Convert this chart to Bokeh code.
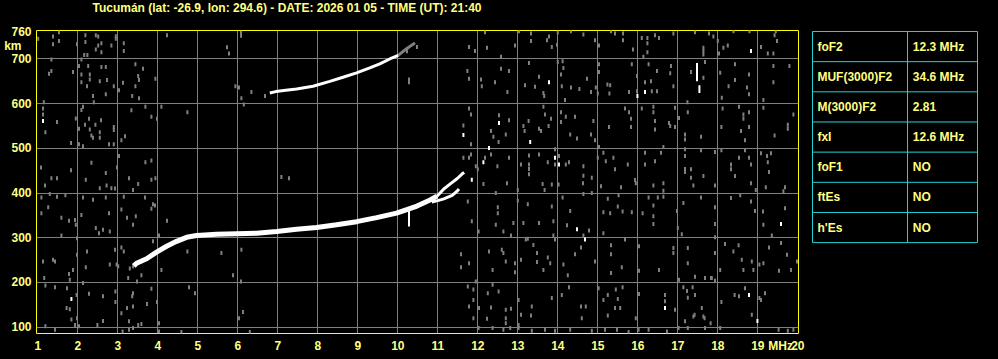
from bokeh.plotting import figure
from bokeh.models import Range1d, FixedTicker
from bokeh.layouts import row
from bokeh.embed import file_html
from bokeh.resources import INLINE
from bokeh.core.properties import value

TITLE = "Tucumán (lat: -26.9, lon: 294.6) - DATE: 2026 01 05 - TIME (UT): 21:40"
x_ticks = list(range(1, 21))
y_ticks = [100, 200, 300, 400, 500, 600, 700, 760]
x_unit_pos, x_unit_text = 19.57, "MHz"
y_unit_pos, y_unit_text = 730, "km\u00a0\u00a0\u00a0"

# main F2 trace (MHz, km)
main_mhz = [3.40, 3.47, 3.72, 3.97, 4.22, 4.47, 4.72, 4.97, 5.47, 5.97, 6.47, 6.97, 7.47,
            7.97, 8.47, 8.97, 9.47, 9.97, 10.48, 10.82, 10.98]
main_km = [237, 243, 253, 268, 281, 292, 301, 305, 308, 309, 310, 314, 319,
           323, 329, 336, 345, 355, 371, 385, 393]
# upper (O) cusp branch
upper_mhz = [10.98, 11.15, 11.32, 11.48, 11.61, 11.66]
upper_km = [393, 409, 421, 432, 443, 446]
# lower (X) branch
lower_mhz = [10.85, 11.00, 11.15, 11.36, 11.48, 11.53]
lower_km = [380, 383, 387, 395, 404, 409]
# second-hop echo
echo_mhz = [6.80, 6.95, 7.20, 7.47, 7.88, 8.30, 8.63, 8.97, 9.30, 9.55, 9.80, 10.01]
echo_km = [624, 627, 630, 633, 639, 650, 659, 669, 680, 689, 700, 708]
echo_tail_mhz = [10.01, 10.22, 10.43]
echo_tail_km = [708, 723, 736]
# vertical spikes
spike_mhz = [10.28, 17.48, 17.54]
spike_lo = [325, 650, 624]
spike_hi = [362, 691, 641]

# bright specks (MHz, km)
bright_pts = [(1.13, 561), (1.84, 163), (18.83, 718), (13.78, 648), (15.99, 617), (16.18, 626),
              (11.64, 530), (12.53, 557), (12.28, 501), (13.31, 514), (12.14, 469), (13.93, 479),
              (14.03, 464), (14.48, 319), (14.68, 296), (19.58, 331), (16.68, 143), (18.78, 172),
              (18.99, 114), (11.85, 430)]

# grey noise (MHz, km)
noise_pts = [
    (1.01, 745), (1.38, 750), (1.38, 733), (1.53, 760), (1.53, 740), (1.98, 733), (2.19, 753), (2.19, 738),
    (2.45, 753), (2.51, 750), (2.51, 730), (2.59, 735), (2.59, 715), (2.45, 721), (2.84, 730), (2.95, 751),
    (2.95, 745), (3.15, 735), (3.15, 718), (2.16, 709), (2.24, 709), (1.34, 699), (2.03, 684), (2.09, 699),
    (2.26, 684), (2.59, 682), (2.70, 682), (1.34, 673), (1.28, 667), (1.88, 671), (2.09, 665), (2.30, 665),
    (2.30, 654), (2.09, 648), (2.55, 650), (2.73, 653), (2.90, 639), (3.13, 647), (3.03, 630), (3.44, 688),
    (3.63, 678), (3.51, 662), (3.53, 653), (3.44, 639), (3.36, 617), (3.53, 612), (3.94, 656), (2.23, 639),
    (2.38, 617), (2.40, 603), (2.70, 621), (1.15, 603), (1.13, 589), (1.13, 576), (1.19, 536), (1.48, 559),
    (1.95, 567), (2.03, 544), (2.13, 593), (2.09, 586), (2.28, 566), (2.18, 553), (2.30, 542), (2.34, 529),
    (2.38, 524), (2.44, 553), (2.58, 563), (2.55, 524), (2.90, 548), (2.90, 541), (2.55, 536), (3.09, 518),
    (3.18, 527), (3.34, 585), (3.69, 593), (3.84, 571), (3.98, 566), (4.09, 593), (4.74, 581), (1.83, 512),
    (2.03, 509), (2.13, 505), (2.78, 509), (2.90, 509), (3.03, 483), (2.34, 468), (1.08, 457), (1.83, 451),
    (2.70, 445), (2.98, 457), (3.69, 469), (3.84, 473), (1.34, 433), (1.48, 433), (2.20, 430), (3.28, 433),
    (3.84, 430), (3.94, 433), (4.23, 753), (5.73, 726), (5.78, 712), (5.94, 639), (6.03, 636), (6.09, 612),
    (6.15, 598), (6.08, 759), (6.08, 752), (7.09, 436), (7.28, 433), (10.28, 654), (10.28, 648), (10.48, 727),
    (10.23, 717), (6.34, 626), (6.68, 617),
    (1.09, 390), (1.18, 417), (1.30, 398), (1.26, 368), (1.48, 392), (1.69, 395), (1.59, 345), (1.78, 338),
    (1.93, 340), (1.95, 329), (1.59, 305), (1.09, 355), (2.13, 390), (2.38, 385), (2.70, 390), (2.55, 411),
    (2.72, 417), (2.84, 411), (2.93, 410), (3.15, 392), (3.38, 407), (3.51, 420), (3.68, 390), (3.88, 375),
    (3.93, 372), (3.84, 365), (2.78, 355), (2.80, 314), (2.63, 318), (2.45, 322), (2.53, 310), (3.38, 329),
    (3.45, 348), (3.23, 345), (4.23, 338), (3.09, 363), (4.03, 305), (3.88, 292), (1.98, 299), (2.09, 351),
    (1.13, 247), (1.38, 251), (1.43, 247), (1.88, 228), (1.78, 219), (1.98, 262), (2.23, 269), (2.20, 234),
    (1.16, 210), (1.80, 206), (2.13, 199), (2.97, 240), (3.01, 236), (2.80, 240), (2.93, 273), (3.15, 269),
    (3.09, 278), (3.26, 210), (3.48, 202), (3.38, 236), (3.30, 231), (3.59, 216), (4.09, 228), (4.74, 269),
    (5.59, 266), (6.09, 273), (5.88, 216), (6.08, 202), (1.73, 187), (1.43, 189), (1.19, 193), (1.72, 143),
    (1.80, 140), (1.97, 172), (2.28, 175), (2.63, 169), (2.94, 180), (2.94, 156), (3.09, 131), (3.38, 176),
    (3.36, 169), (3.38, 146), (3.23, 143), (3.73, 152), (3.84, 186), (3.98, 156), (4.78, 189), (4.93, 176),
    (1.84, 117), (1.98, 120), (1.93, 105), (2.03, 102), (2.49, 105), (2.63, 114), (3.28, 113), (3.38, 98),
    (3.51, 105), (3.59, 107), (4.03, 109), (4.03, 90), (1.43, 94), (1.19, 102), (3.12, 90), (3.28, 94),
    (4.59, 89), (6.13, 134), (6.03, 120), (6.30, 89),
    (12.18, 760), (11.78, 727), (11.93, 718), (12.23, 725), (12.93, 730), (12.58, 705), (13.03, 762), (13.33, 757),
    (13.33, 740), (13.73, 742), (13.78, 750), (13.98, 732), (13.85, 727), (14.00, 759), (14.33, 762), (14.64, 755),
    (14.93, 742), (15.03, 730), (15.33, 762), (15.43, 757), (15.63, 757), (15.63, 742), (15.88, 721), (16.10, 747),
    (16.24, 747), (16.24, 735), (16.43, 753), (16.53, 747), (16.24, 715), (16.14, 705), (16.89, 757), (17.43, 760),
    (17.64, 725), (17.64, 718), (17.64, 710), (17.78, 757), (17.89, 750), (18.00, 740), (18.03, 712), (18.14, 725),
    (18.25, 730), (18.39, 762), (18.79, 762), (19.08, 727), (19.25, 712), (19.42, 753), (19.48, 740), (19.45, 762),
    (19.39, 712),
    (11.74, 673), (11.78, 656), (12.08, 654), (12.10, 639), (12.43, 648), (12.58, 678), (12.78, 673), (12.74, 626),
    (13.28, 691), (13.18, 641), (13.53, 660), (13.43, 638), (13.66, 617), (13.64, 624), (14.00, 693), (14.12, 695),
    (14.14, 680), (14.08, 665), (14.10, 639), (14.18, 608), (14.33, 636), (14.54, 633), (14.73, 656), (14.83, 626),
    (14.95, 636), (15.03, 688), (15.03, 671), (15.00, 623), (15.24, 643), (15.29, 623), (15.31, 641), (15.78, 626),
    (15.85, 688), (15.98, 662), (15.98, 628), (16.18, 648), (16.27, 688), (16.33, 650), (16.35, 628), (16.48, 673),
    (16.48, 628), (16.83, 684), (16.81, 668), (16.89, 639), (17.24, 603), (17.33, 671), (17.64, 658), (17.68, 693),
    (18.06, 669), (18.10, 613), (18.27, 639), (18.43, 653), (18.43, 688), (18.73, 636), (18.78, 665), (18.78, 621),
    (19.14, 608), (19.39, 684), (19.39, 648), (19.79, 684),
    (11.78, 589), (11.83, 576), (11.64, 551), (11.83, 509), (12.33, 539), (12.39, 526), (12.53, 574), (12.78, 563),
    (12.70, 531), (12.52, 514), (13.14, 550), (13.17, 539), (13.27, 561), (13.53, 544), (13.58, 539), (13.64, 593),
    (13.68, 576), (13.77, 550), (13.83, 566), (14.08, 581), (14.20, 571), (14.43, 571), (14.08, 559), (14.31, 531),
    (14.48, 522), (14.83, 531), (14.89, 561), (14.93, 518), (15.28, 548), (15.68, 589), (15.78, 581), (15.83, 566),
    (15.83, 548), (16.10, 589), (16.39, 593), (16.43, 561), (16.43, 542), (16.39, 581), (16.78, 557), (16.93, 591),
    (16.93, 548), (16.81, 550), (17.03, 568), (17.25, 581), (17.18, 531), (17.18, 520), (17.58, 526), (18.12, 589),
    (18.09, 548), (18.53, 593), (18.64, 576), (18.64, 566), (18.78, 581), (18.78, 548), (18.58, 539), (18.68, 518),
    (19.14, 591), (19.42, 529), (19.75, 553), (19.75, 544), (19.89, 576),
    (11.64, 479), (11.78, 479), (11.83, 486), (11.95, 460), (12.00, 453), (12.18, 479), (12.33, 486), (12.49, 460),
    (12.78, 479), (13.08, 464), (13.28, 484), (13.28, 464), (13.28, 454), (13.28, 442), (13.53, 486), (13.75, 469),
    (13.93, 498), (13.93, 464), (14.03, 483), (14.20, 464), (14.28, 469), (14.64, 460), (14.64, 439), (14.85, 434),
    (15.00, 479), (15.03, 503), (15.14, 490), (15.20, 471), (15.39, 479), (15.43, 453), (15.75, 464), (15.93, 429),
    (16.18, 490), (16.18, 464), (16.43, 471), (16.58, 490), (16.64, 503), (17.18, 498), (17.18, 483), (17.18, 454),
    (17.18, 447), (17.33, 453), (17.33, 434), (17.64, 438), (17.58, 496), (17.93, 492), (18.09, 496), (18.33, 464),
    (18.33, 453), (18.43, 438), (18.53, 479), (18.68, 496), (18.78, 479), (18.83, 464), (19.08, 489), (19.23, 483),
    (19.33, 489), (19.25, 469), (19.28, 447),
    (12.14, 420), (12.45, 400), (12.73, 422), (13.00, 407), (13.62, 420), (13.67, 407), (13.85, 419), (14.02, 419),
    (14.63, 422), (14.64, 398), (14.85, 400), (15.08, 415), (15.58, 413), (15.95, 422), (16.39, 417), (16.64, 422),
    (16.64, 405), (17.39, 417), (17.93, 417), (18.83, 422), (18.95, 407), (19.20, 413), (19.68, 413), (19.64, 404),
    (11.75, 381), (11.85, 337), (12.02, 314), (12.50, 368), (12.50, 355), (12.45, 329), (12.64, 314), (12.89, 333),
    (12.83, 305), (13.00, 383), (13.14, 333), (13.25, 375), (13.25, 298), (13.53, 333), (13.85, 370), (13.89, 337),
    (13.89, 305), (14.12, 390), (14.23, 328), (14.31, 360), (14.64, 305), (14.78, 316), (15.14, 357), (15.14, 310),
    (15.25, 387), (15.31, 355), (15.52, 395), (15.50, 370), (15.62, 359), (15.85, 357), (16.12, 355), (16.27, 390),
    (16.39, 372), (16.39, 348), (16.39, 331), (16.50, 390), (16.64, 392), (16.98, 360), (17.00, 322), (17.10, 308),
    (17.14, 378), (17.58, 390), (17.93, 368), (17.93, 331), (17.93, 301), (18.33, 389), (18.56, 395), (18.83, 381),
    (18.93, 360), (19.13, 359), (19.14, 329), (19.68, 366), (19.35, 305),
    (11.58, 263), (11.58, 234), (11.78, 243), (12.28, 269), (12.37, 228), (12.60, 273), (12.64, 266), (12.70, 247),
    (12.93, 243), (12.93, 223), (13.08, 251), (13.20, 296), (13.39, 284), (13.48, 266), (13.48, 246), (13.64, 228),
    (13.75, 256), (13.81, 243), (13.93, 296), (14.14, 240), (14.25, 216), (14.43, 263), (14.58, 278), (14.93, 247),
    (15.33, 283), (15.33, 263), (15.33, 221), (15.60, 234), (15.68, 296), (16.03, 281), (16.03, 226), (16.53, 228),
    (16.89, 277), (16.89, 266), (17.25, 277), (17.25, 243), (17.43, 213), (17.68, 210), (17.83, 210), (17.93, 266),
    (18.06, 228), (18.18, 286), (18.39, 269), (18.52, 283), (18.60, 251), (18.64, 228), (18.85, 247), (18.89, 228),
    (19.04, 240), (19.14, 243), (19.28, 278), (19.58, 288), (19.73, 262), (19.53, 226), (19.83, 228), (19.98, 247),
    (11.75, 191), (11.89, 184), (11.95, 202), (11.89, 161), (11.78, 146), (12.03, 143), (12.25, 176), (12.33, 144),
    (12.37, 195), (12.52, 180), (12.70, 139), (12.83, 141), (12.70, 120), (13.02, 161), (13.08, 128), (13.35, 146),
    (13.33, 126), (13.85, 165), (14.10, 172), (14.28, 189), (14.58, 146), (14.70, 146), (14.60, 120), (15.02, 187),
    (15.14, 161), (15.25, 172), (15.25, 126), (15.45, 184), (15.50, 163), (15.43, 143), (15.56, 143), (15.62, 189),
    (15.95, 120), (16.03, 174), (16.68, 172), (16.68, 158), (16.93, 139), (17.03, 206), (17.14, 189), (17.23, 181),
    (17.25, 166), (17.37, 189), (17.43, 172), (17.42, 128), (17.60, 143), (17.67, 120), (17.85, 210), (17.93, 204),
    (18.09, 156), (18.42, 172), (18.53, 169), (18.68, 187), (19.04, 165), (19.18, 176), (18.85, 128), (19.08, 161),
    (12.02, 98), (12.37, 98), (12.64, 94), (13.02, 98), (13.35, 92), (13.68, 94), (13.93, 92), (14.31, 94),
    (14.85, 92), (15.18, 94), (15.48, 94), (15.77, 89), (16.02, 94), (16.27, 94), (16.73, 90), (17.02, 98),
    (17.25, 98), (17.68, 98), (19.52, 94), (19.75, 92), (19.89, 94), (18.06, 98), (13.02, 105), (12.70, 109),
    (12.23, 119), (11.89, 120), (17.18, 113), (17.39, 124), (17.64, 124), (17.82, 109), (12.81, 98),
]

# table
param_names = ["foF2", "MUF(3000)F2", "M(3000)F2", "fxI", "foF1", "ftEs", "h'Es"]
param_values = ["12.3 MHz", "34.6 MHz", "2.81", "12.6 MHz", "NO", "NO", "NO"]

YEL = "#ffff00"
TXT = "#ffff80"
GRID = "#808080"
CYAN = "#22d3d3"
FONT = "Liberation Sans, Arial, sans-serif"

p = figure(width=810, height=359, output_backend="svg", toolbar_location=None,
           x_range=Range1d(0.9675, 20.0175), y_range=Range1d(85.8, 763.7),
           min_border_left=36, min_border_right=12, min_border_top=30, min_border_bottom=26)
p.background_fill_color = "black"
p.border_fill_color = "black"
p.outline_line_color = YEL
p.outline_line_width = 1

# second (blank) line makes the title panel fill the top border so the text sits at the top
p.title.text = TITLE + "\n\u00a0"
p.title.align = "left"
p.title.offset = 56
p.title.text_color = TXT
p.title.text_font = FONT
p.title.text_font_style = "bold"
p.title.text_font_size = "12px"
p.title.vertical_align = "top"
p.title.standoff = 0

p.xaxis.ticker = FixedTicker(ticks=x_ticks + [x_unit_pos])
p.yaxis.ticker = FixedTicker(ticks=y_ticks + [y_unit_pos])
p.xaxis.major_label_overrides = {x_unit_pos: x_unit_text}
p.yaxis.major_label_overrides = {y_unit_pos: y_unit_text}
for ax in (p.xaxis, p.yaxis):
    ax.axis_line_color = None
    ax.major_tick_line_color = None
    ax.minor_tick_line_color = None
    ax.major_tick_out = 0
    ax.major_tick_in = 0
    ax.major_label_text_color = TXT
    ax.major_label_text_font = FONT
    ax.major_label_text_font_style = "bold"
    ax.major_label_text_font_size = "12px"
p.xaxis.major_label_standoff = 5
p.yaxis.major_label_standoff = 5

p.xgrid.ticker = FixedTicker(ticks=list(range(2, 20)))
p.ygrid.ticker = FixedTicker(ticks=[100, 200, 300, 400, 500, 600, 700])
p.grid.grid_line_color = GRID
p.grid.grid_line_width = 1
p.grid.grid_line_alpha = 1

nx = [a for a, b in noise_pts]
ny = [b for a, b in noise_pts]
p.rect(x=nx, y=ny, width=2, height=4, width_units="screen", height_units="screen",
       fill_color=GRID, line_color=None)
bx = [a for a, b in bright_pts]
by = [b for a, b in bright_pts]
p.rect(x=bx, y=by, width=2, height=4, width_units="screen", height_units="screen",
       fill_color="white", line_color=None)

p.line(main_mhz, main_km, line_color="white", line_width=5)
p.line(upper_mhz, upper_km, line_color="white", line_width=3)
p.line(lower_mhz, lower_km, line_color="white", line_width=3)
p.line(echo_tail_mhz, echo_tail_km, line_color=GRID, line_width=3)
p.line(echo_mhz, echo_km, line_color="white", line_width=3)
p.segment(x0=spike_mhz, y0=spike_lo, x1=spike_mhz, y1=spike_hi, line_color="white", line_width=2)

# table figure: same vertical borders as the main plot so the row aligns them
n = len(param_names)
row_px = 30.2
t = figure(width=188, height=359, output_backend="svg", toolbar_location=None,
           x_range=Range1d(-2 / 165, 186 / 165), y_range=Range1d(n + 91 / row_px, -1 / row_px),
           min_border_left=0, min_border_right=0, min_border_top=30, min_border_bottom=26)
t.background_fill_color = "black"
t.border_fill_color = "black"
t.outline_line_color = None
t.axis.visible = False
t.grid.visible = False
rows_idx = list(range(n + 1))
t.segment(x0=[0] * (n + 1), y0=rows_idx, x1=[1] * (n + 1), y1=rows_idx, line_color=CYAN, line_width=1)
t.segment(x0=[0, 0.576, 1], y0=[0, 0, 0], x1=[0, 0.576, 1], y1=[n, n, n], line_color=CYAN, line_width=1)
t.text(x=[0.03] * n, y=[i + 0.5 for i in range(n)], text=param_names,
       text_color=TXT, text_font=value(FONT), text_font_style="bold", text_font_size="12px",
       text_baseline="middle")
t.text(x=[0.608] * n, y=[i + 0.5 for i in range(n)], text=param_values,
       text_color=TXT, text_font=value(FONT), text_font_style="bold", text_font_size="12px",
       text_baseline="middle")

layout = row(p, t, spacing=0)
layout.styles = {"background-color": "black"}
open("out.html", "w").write(file_html(layout, INLINE))
